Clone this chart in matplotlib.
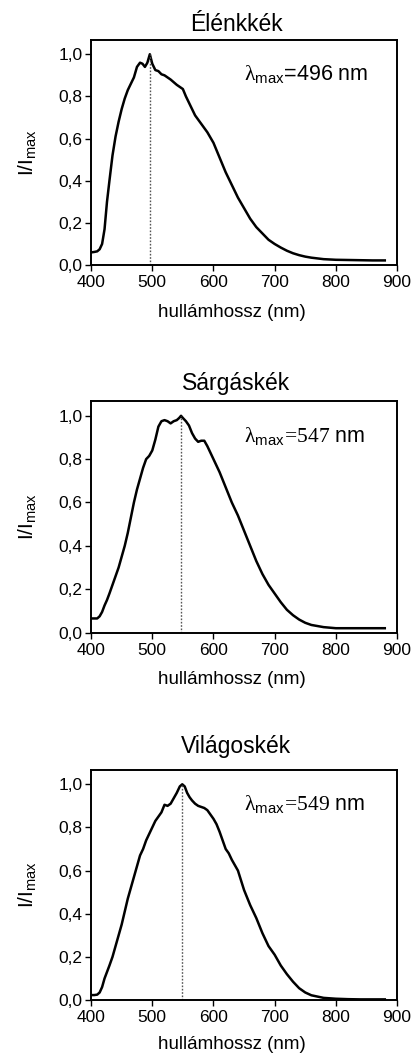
import matplotlib
matplotlib.use('Agg')
import matplotlib.pyplot as plt
from matplotlib.ticker import FuncFormatter

plt.rcParams['font.family'] = ['Liberation Sans', 'DejaVu Sans']
plt.rcParams['mathtext.fontset'] = 'custom'
plt.rcParams['mathtext.rm'] = 'Liberation Serif'
plt.rcParams['mathtext.it'] = 'Liberation Serif:italic'
plt.rcParams['mathtext.sf'] = 'Liberation Sans'

titles = ['Élénkkék', 'Sárgáskék', 'Világoskék']
lambda_max = [496, 547, 549]

wl1 = [400, 405, 410, 414, 418, 422, 426, 430, 435, 440,
       445, 450, 455, 460, 465, 470, 475, 480, 484, 488,
       492, 496, 500, 505, 510, 515, 520, 530, 540, 550,
       555, 560, 570, 580, 590, 600, 610, 620, 630, 640,
       650, 660, 670, 680, 690, 700, 710, 720, 730, 740,
       750, 760, 780, 800, 820, 840, 860, 880]
int1 = [0.06, 0.062, 0.065, 0.075, 0.10, 0.17, 0.30, 0.40, 0.52, 0.61,
        0.68, 0.74, 0.79, 0.83, 0.86, 0.89, 0.94, 0.96, 0.955, 0.94,
        0.96, 1.0, 0.955, 0.925, 0.92, 0.905, 0.90, 0.88, 0.855, 0.835,
        0.80, 0.77, 0.71, 0.67, 0.63, 0.58, 0.51, 0.44, 0.38, 0.32,
        0.27, 0.22, 0.18, 0.15, 0.12, 0.10, 0.083, 0.068, 0.056, 0.047,
        0.040, 0.035, 0.028, 0.025, 0.024, 0.023, 0.022, 0.022]

wl2 = [400, 405, 410, 414, 418, 422, 426, 430, 435, 440,
       445, 450, 455, 460, 465, 470, 475, 480, 485, 490,
       495, 500, 505, 510, 515, 520, 525, 530, 535, 540,
       544, 547, 550, 555, 560, 565, 570, 575, 580, 585,
       590, 595, 600, 610, 620, 630, 640, 650, 660, 670,
       680, 690, 700, 710, 720, 730, 740, 750, 760, 780,
       800, 820, 840, 860, 880]
int2 = [0.065, 0.065, 0.065, 0.075, 0.095, 0.125, 0.15, 0.18, 0.22, 0.26,
        0.30, 0.35, 0.40, 0.46, 0.53, 0.60, 0.66, 0.71, 0.76, 0.80,
        0.815, 0.84, 0.89, 0.95, 0.975, 0.98, 0.975, 0.965, 0.975, 0.98,
        0.99, 1.0, 0.99, 0.975, 0.955, 0.92, 0.895, 0.88, 0.885, 0.885,
        0.86, 0.83, 0.80, 0.74, 0.67, 0.60, 0.54, 0.47, 0.40, 0.33,
        0.27, 0.22, 0.18, 0.14, 0.105, 0.08, 0.06, 0.045, 0.035, 0.025,
        0.02, 0.02, 0.02, 0.02, 0.02]

wl3 = [400, 405, 410, 414, 418, 422, 426, 430, 435, 440,
       445, 450, 455, 460, 465, 470, 475, 480, 485, 490,
       495, 500, 505, 510, 515, 520, 525, 530, 535, 540,
       545, 549, 553, 557, 561, 565, 570, 575, 580, 585,
       590, 595, 600, 605, 610, 615, 620, 625, 630, 640,
       650, 660, 670, 680, 690, 700, 710, 720, 730, 740,
       750, 760, 780, 800, 820, 840, 860, 880]
int3 = [0.023, 0.023, 0.025, 0.035, 0.06, 0.10, 0.13, 0.16, 0.20, 0.25,
        0.30, 0.35, 0.41, 0.47, 0.52, 0.57, 0.62, 0.67, 0.70, 0.74,
        0.77, 0.80, 0.83, 0.85, 0.87, 0.905, 0.90, 0.91, 0.935, 0.96,
        0.99, 1.0, 0.99, 0.96, 0.94, 0.925, 0.91, 0.90, 0.895, 0.89,
        0.88, 0.86, 0.84, 0.815, 0.78, 0.74, 0.70, 0.68, 0.65, 0.60,
        0.51, 0.44, 0.38, 0.31, 0.25, 0.21, 0.16, 0.12, 0.085, 0.055,
        0.035, 0.022, 0.01, 0.006, 0.004, 0.003, 0.003, 0.003]

xticks = [400, 500, 600, 700, 800, 900]
yticks = [0.0, 0.2, 0.4, 0.6, 0.8, 1.0]

waves = [wl1, wl2, wl3]
intens = [int1, int2, int3]

# axes boxes [left, bottom, width, height] in figure fraction
boxes = [[0.220, 0.749, 0.739, 0.213],
         [0.220, 0.401, 0.739, 0.219],
         [0.220, 0.053, 0.739, 0.218]]
title_pads = [6.5, 8, 12]
xlabel_pads = [9.5, 9.5, 7.5]

fig = plt.figure(figsize=(4.14, 10.56), dpi=100)

for i in range(3):
    ax = fig.add_axes(boxes[i])
    ax.plot(waves[i], intens[i], color='black', lw=1.8)
    peak = intens[i][waves[i].index(lambda_max[i])]
    ax.plot([lambda_max[i], lambda_max[i]], [0, peak], color='#555555',
            lw=1.0, ls=(0, (1.2, 1.2)))
    ax.set_xlim(400, 900)
    ax.set_ylim(0, 1.067)
    ax.set_xticks(xticks)
    ax.set_yticks(yticks)
    ax.yaxis.set_major_formatter(FuncFormatter(lambda v, p: ('%.1f' % v).replace('.', ',')))
    ax.tick_params(direction='out', length=4, width=1, labelsize=12.5)
    ax.tick_params(axis='x', pad=3.5)
    ax.tick_params(axis='y', pad=2)
    for s in ax.spines.values():
        s.set_linewidth(1.4)
    ax.set_title(titles[i], fontsize=16.5, pad=title_pads[i], x=0.475)
    ax.set_xlabel('hullámhossz (nm)', fontsize=13.5, labelpad=xlabel_pads[i])
    ax.xaxis.label.set_x(0.46)
    ax.set_ylabel(r'I/I$_{\mathsf{max}}$', fontsize=15)
    ax.yaxis.set_label_coords(-0.175, 0.5)
    if i == 0:
        lab = r'$\mathrm{\lambda}_{\mathsf{max}}$=%d nm' % lambda_max[i]
    else:
        lab = r'$\mathrm{\lambda}_{\mathsf{max}}\!=\!\mathrm{%d}$ nm' % lambda_max[i]
    ax.text(0.50, 0.85, lab, transform=ax.transAxes, fontsize=15.5,
            ha='left', va='center')

fig.savefig('out.png', dpi=100)
